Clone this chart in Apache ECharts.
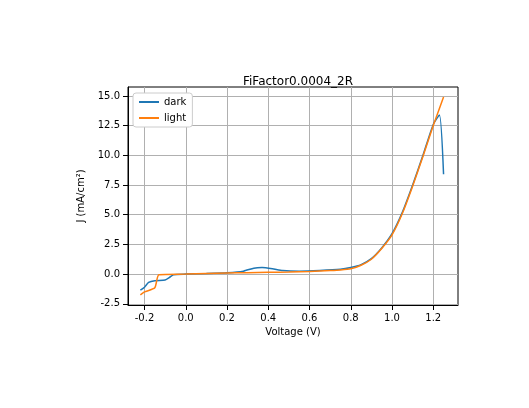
<!DOCTYPE html><html><head><meta charset="utf-8"><script src="https://cdn.jsdelivr.net/npm/echarts@6/dist/echarts.min.js"></script>
<style>body{margin:0}#c{width:529px;height:408px}</style></head><body><div id="c"></div><script>
const darkV=[-0.22,-0.2,-0.18,-0.15,-0.1,-0.08,-0.06,0,0.1,0.2,0.28,0.33,0.37,0.42,0.47,0.55,0.65,0.75,0.8,0.85,0.9,0.95,1.0,1.05,1.1,1.15,1.2,1.23,1.25];
const darkJ=[-1.35,-1.1,-0.7,-0.55,-0.5,-0.3,-0.05,0,0.05,0.12,0.25,0.5,0.55,0.45,0.3,0.25,0.3,0.4,0.55,0.8,1.3,2.2,3.4,5.2,7.5,10.0,12.6,13.4,8.4];
const lightV=[-0.22,-0.2,-0.15,-0.13,0,0.1,0.2,0.3,0.4,0.5,0.6,0.7,0.75,0.8,0.85,0.9,0.95,1.0,1.05,1.1,1.15,1.2,1.25];
const lightJ=[-1.75,-1.5,-1.15,-0.05,0,0.05,0.1,0.12,0.15,0.18,0.22,0.3,0.35,0.45,0.75,1.25,2.15,3.3,5.1,7.4,9.9,12.5,14.9];
const xTicks=[-0.2,0,0.2,0.4,0.6,0.8,1.0,1.2];
const yTicks=[-2.5,0,2.5,5,7.5,10,12.5,15];
const zip=(a,b)=>a.map((v,i)=>[v,b[i]]);
const font='DejaVu Sans';
const ax={axisLine:{show:true,onZero:false,lineStyle:{color:'#000'}},axisTick:{show:true,customValues:null,lineStyle:{color:'#000'}},splitLine:{show:true,lineStyle:{color:'#b0b0b0'}},nameLocation:'middle',nameTextStyle:{color:'#000',fontFamily:font,fontSize:10}};
const c=echarts.init(document.getElementById('c'));
c.setOption({animation:false,textStyle:{fontFamily:font},
title:{text:'FiFactor0.0004_2R',left:293,textAlign:'center',top:71,textStyle:{fontSize:12,fontWeight:'normal',color:'#000',fontFamily:font}},
legend:{left:133,top:93,orient:'vertical',itemWidth:20,itemHeight:2,itemGap:6,backgroundColor:'#fff',borderColor:'#ccc',borderWidth:1,borderRadius:3,padding:[4,6],textStyle:{fontSize:10,color:'#000',fontFamily:font},data:[{name:'dark',icon:'rect'},{name:'light',icon:'rect'}]},
grid:{left:128,right:71,top:87,bottom:103,show:true,borderColor:'#000',borderWidth:1},
xAxis:Object.assign({},ax,{type:'value',min:-0.28,max:1.32,name:'Voltage (V)',nameGap:22,axisTick:{customValues:xTicks,lineStyle:{color:'#000'}},axisLabel:{customValues:xTicks,formatter:v=>(+v).toFixed(1),color:'#000',fontSize:10,fontFamily:font},splitLine:{show:true,lineStyle:{color:'#b0b0b0'}}}),
yAxis:Object.assign({},ax,{type:'value',min:-2.6,max:15.75,name:'J (mA/cm²)',nameGap:36,axisTick:{customValues:yTicks,lineStyle:{color:'#000'}},axisLabel:{customValues:yTicks,formatter:v=>(+v).toFixed(1),color:'#000',fontSize:10,fontFamily:font},splitLine:{show:true,lineStyle:{color:'#b0b0b0'}}}),
series:[{name:'dark',type:'line',data:zip(darkV,darkJ),showSymbol:false,smooth:0.2,lineStyle:{width:1.5,color:'#1f77b4'},itemStyle:{color:'#1f77b4'}},
{name:'light',type:'line',data:zip(lightV,lightJ),showSymbol:false,smooth:0.2,lineStyle:{width:1.5,color:'#ff7f0e'},itemStyle:{color:'#ff7f0e'}}]});
</script></body></html>
